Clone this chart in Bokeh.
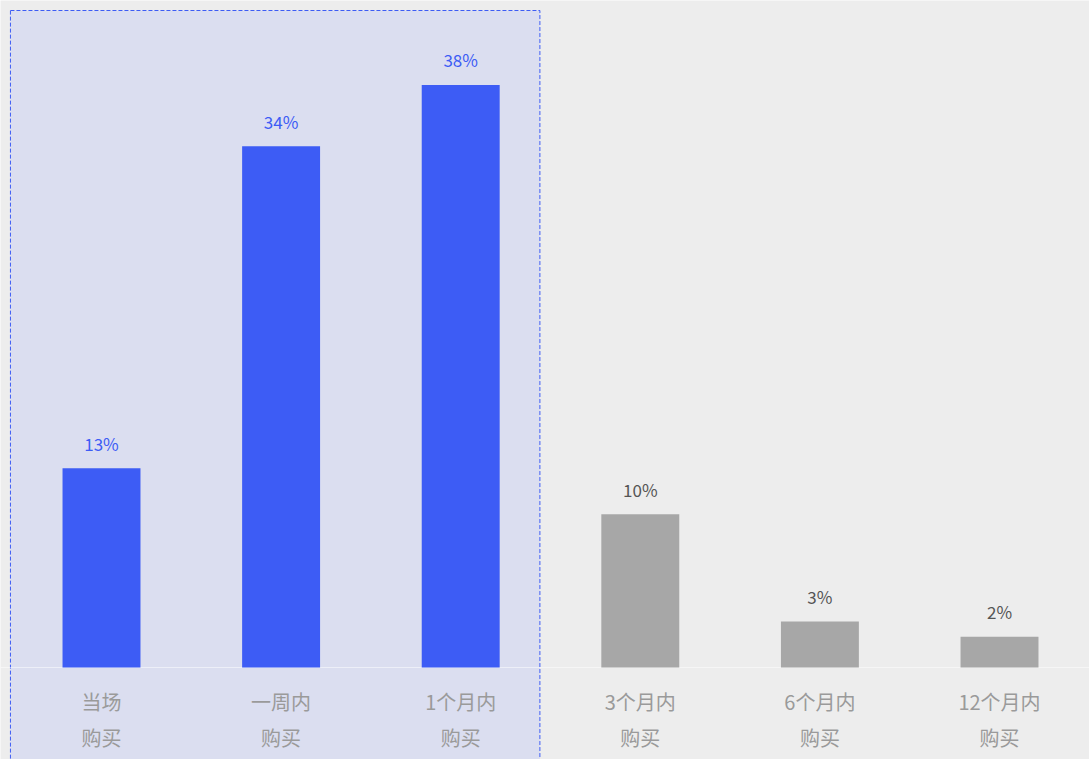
import numpy as np
from bokeh.plotting import figure
from bokeh.models import ColumnDataSource, Range1d, BoxAnnotation, Span
from bokeh.core.properties import value
from bokeh.embed import file_html
from bokeh.resources import INLINE

line1 = ["当场", "一周内", "1个月内", "3个月内", "6个月内", "12个月内"]
line2 = ["购买", "购买", "购买", "购买", "购买", "购买"]
shares = [13, 34, 38, 10, 3, 2]
highlighted = [True, True, True, False, False, False]

BLUE = "#3D5CF5"
GREY_BAR = "#A7A7A7"
BG = "#EDEDED"
HL = "#DBDEF0"
FONT = "Noto Sans CJK SC"

x = np.arange(len(shares))
src = ColumnDataSource(dict(
    x=x,
    top=shares,
    bar_color=[BLUE if h else GREY_BAR for h in highlighted],
    lab_color=[BLUE if h else "#555555" for h in highlighted],
    lab=[f"{v}%" for v in shares],
    l1=line1,
    l2=line2,
))

W, H = 1089, 759
px_per_unit = 15.33
base_px = 667
cat_px = 179.6
first_px = 101

p = figure(width=W, height=H, output_backend="svg", toolbar_location=None,
           x_range=Range1d(-first_px / cat_px, (W - first_px) / cat_px),
           y_range=Range1d(-(H - base_px) / px_per_unit, base_px / px_per_unit),
           min_border=0, min_border_left=0, min_border_right=0,
           min_border_top=0, min_border_bottom=0)
p.axis.visible = False
p.grid.visible = False
p.outline_line_color = None
p.background_fill_color = BG
p.border_fill_color = BG

box = BoxAnnotation(left=-0.507, right=2.441, top=(base_px - 10) / px_per_unit,
                    bottom=-20, fill_color=HL, fill_alpha=1.0,
                    line_color=BLUE, line_dash="4 2", line_width=1, line_alpha=1.0,
                    level="underlay")
p.add_layout(box)

p.add_layout(Span(location=0, dimension="width", line_color="white",
                  line_alpha=0.5, line_width=1, level="underlay"))

p.vbar(x="x", top="top", bottom=0, width=0.434, source=src,
       fill_color="bar_color", line_color=None)

p.text(x="x", y="top", text="lab", source=src, text_color="lab_color",
       text_font=value(FONT), text_font_size="17px", text_align="center",
       text_baseline="middle", y_offset=-25)

p.text(x="x", y=0, text="l1", source=src, text_color="#9A9A9A",
       text_font=value(FONT), text_font_size="20px", text_align="center",
       text_baseline="middle", y_offset=34)
p.text(x="x", y=0, text="l2", source=src, text_color="#9A9A9A",
       text_font=value(FONT), text_font_size="20px", text_align="center",
       text_baseline="middle", y_offset=70)

html = file_html(p, INLINE)
html = html.replace("<body>", '<body style="margin:0;background:#EDEDED;overflow:hidden">', 1)
open("out.html", "w").write(html)
